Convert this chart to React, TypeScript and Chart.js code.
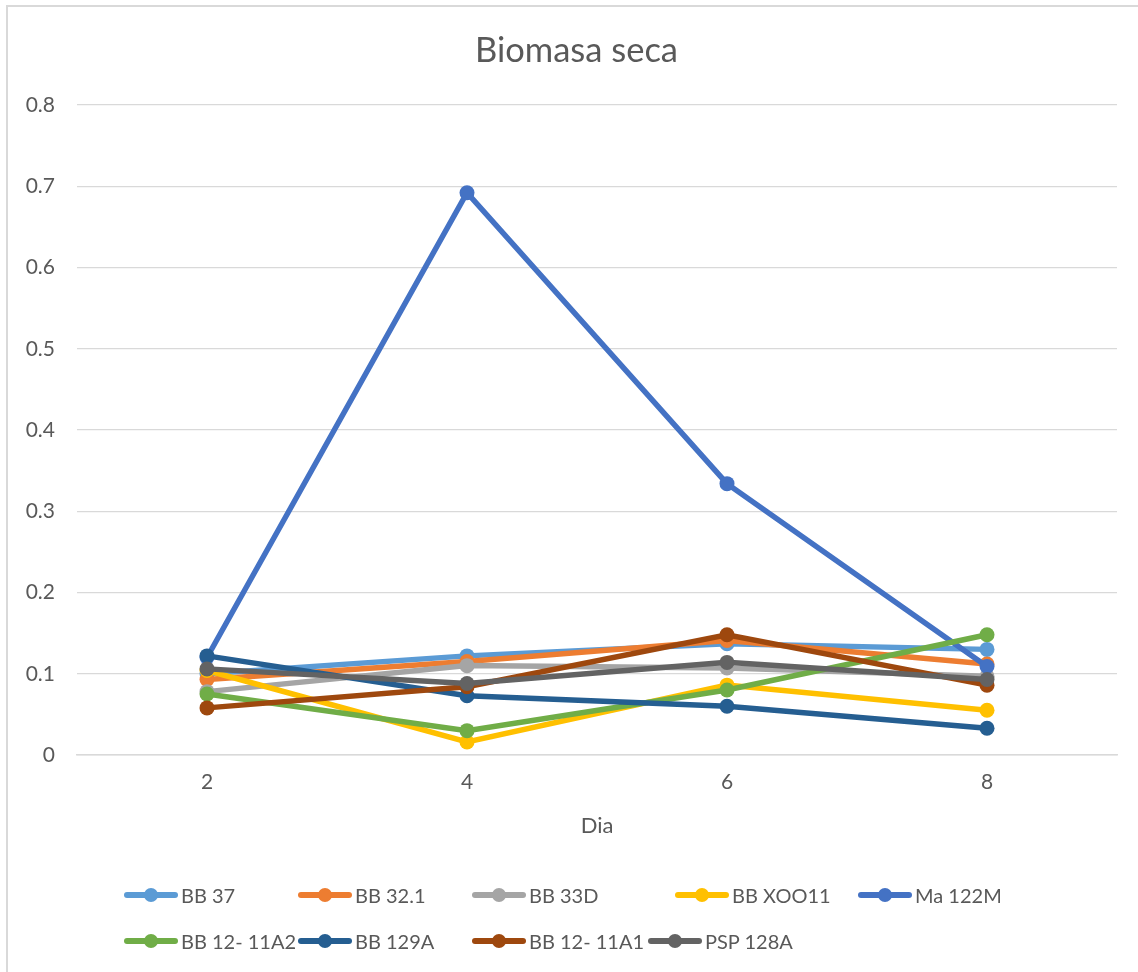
import React, { useEffect, useRef } from "react";
import { Chart, registerables } from "chart.js";

Chart.register(...registerables);

// Sampling days (x axis categories)
const days = ["2", "4", "6", "8"];

// Dry biomass per strain, one value per day
const bb37 = [0.1, 0.122, 0.137, 0.13];
const bb321 = [0.093, 0.115, 0.141, 0.112];
const bb33d = [0.078, 0.11, 0.107, 0.097];
const bbXoo11 = [0.104, 0.016, 0.086, 0.055];
const ma122m = [0.12, 0.692, 0.334, 0.109];
const bb1211a2 = [0.075, 0.03, 0.08, 0.148];
const bb129a = [0.122, 0.073, 0.06, 0.033];
const bb1211a1 = [0.058, 0.084, 0.148, 0.086];
const psp128a = [0.106, 0.088, 0.114, 0.093];

const seriesNames = [
  "BB 37",
  "BB 32.1",
  "BB 33D",
  "BB XOO11",
  "Ma 122M",
  "BB 12- 11A2",
  "BB 129A",
  "BB 12- 11A1",
  "PSP 128A",
];
const seriesValues = [bb37, bb321, bb33d, bbXoo11, ma122m, bb1211a2, bb129a, bb1211a1, psp128a];
const seriesColors = [
  "#5B9BD5",
  "#ED7D31",
  "#A5A5A5",
  "#FFC000",
  "#4472C4",
  "#70AD47",
  "#255E91",
  "#9E480E",
  "#636363",
];

const yTicks = [0, 0.1, 0.2, 0.3, 0.4, 0.5, 0.6, 0.7, 0.8];

const FONT = "Lato, 'Open Sans', sans-serif";
const TEXT = "#595959";
const GRID = "#d9d9d9";

// Legend placement: start of each entry's marker line, row centre
const legendSlots = [
  { x: 124, y: 895 },
  { x: 298, y: 895 },
  { x: 472, y: 895 },
  { x: 675, y: 895 },
  { x: 858, y: 895 },
  { x: 124, y: 941 },
  { x: 298, y: 941 },
  { x: 472, y: 941 },
  { x: 648, y: 941 },
];

export default function App() {
  const canvasRef = useRef<HTMLCanvasElement | null>(null);

  useEffect(() => {
    if (!canvasRef.current) return;
    const n = seriesNames.length;
    const chart = new Chart(canvasRef.current, {
      type: "line",
      data: {
        labels: days,
        datasets: seriesNames.map((name, i) => ({
          label: name,
          data: seriesValues[i],
          borderColor: seriesColors[i],
          backgroundColor: seriesColors[i],
          pointBackgroundColor: seriesColors[i],
          pointBorderColor: seriesColors[i],
          borderWidth: 5.5,
          pointRadius: 7.5,
          pointBorderWidth: 0,
          tension: 0,
          fill: false,
          // later series are painted over earlier ones
          order: n - 1 - i,
        })),
      },
      options: {
        animation: false,
        responsive: true,
        maintainAspectRatio: false,
        layout: { padding: { left: 0, right: 21, top: 105, bottom: 127 } },
        plugins: {
          legend: { display: false },
          tooltip: { enabled: false },
          title: { display: false },
        },
        scales: {
          x: {
            type: "category",
            offset: true,
            grid: { display: false, drawTicks: false },
            border: { display: true, color: GRID, width: 1.5 },
            ticks: {
              color: TEXT,
              font: { family: FONT, size: 21 },
              padding: 15,
            },
            title: {
              display: true,
              text: "Dia",
              color: TEXT,
              font: { family: FONT, size: 22 },
              padding: { top: 6, bottom: 6 },
            },
            afterFit: (scale: any) => {
              scale.height = 90;
            },
          },
          y: {
            min: 0,
            max: 0.8,
            afterBuildTicks: (scale: any) => {
              scale.ticks = yTicks.map((v) => ({ value: v }));
            },
            grid: { color: GRID, lineWidth: 1.3, drawTicks: false },
            border: { display: false },
            ticks: {
              color: TEXT,
              font: { family: FONT, size: 21 },
              padding: 22,
              callback: (v: any) => (Number(v) === 0 ? "0" : Number(v).toFixed(1)),
            },
            afterFit: (scale: any) => {
              scale.width = 77;
            },
          },
        },
      },
    });
    return () => chart.destroy();
  }, []);

  return (
    <div
      style={{
        position: "absolute",
        left: 0,
        top: 0,
        width: 1138,
        height: 972,
        background: "#ffffff",
        overflow: "hidden",
        fontFamily: FONT,
      }}
    >
      <div
        style={{
          position: "absolute",
          left: 6,
          top: 5,
          width: 1140,
          height: 980,
          borderLeft: `2px solid ${GRID}`,
          borderTop: `2px solid ${GRID}`,
        }}
      />
      <canvas
        ref={canvasRef}
        style={{ position: "absolute", left: 0, top: 0, width: 1138, height: 972 }}
      />
      <div
        style={{
          position: "absolute",
          left: 0,
          top: 28,
          width: 1153,
          textAlign: "center",
          fontSize: 34.5,
          lineHeight: 1.2,
          color: TEXT,
          whiteSpace: "nowrap",
        }}
      >
        Biomasa seca
      </div>
      {seriesNames.map((name, i) => {
        const slot = legendSlots[i];
        return (
          <div
            key={name}
            style={{
              position: "absolute",
              left: slot.x,
              top: slot.y - 14,
              height: 28,
              display: "flex",
              alignItems: "center",
              whiteSpace: "nowrap",
            }}
          >
            <span style={{ position: "relative", width: 54, height: 28, display: "inline-block" }}>
              <span
                style={{
                  position: "absolute",
                  left: 0,
                  top: 11.25,
                  width: 54,
                  height: 5.5,
                  borderRadius: 3,
                  background: seriesColors[i],
                }}
              />
              <span
                style={{
                  position: "absolute",
                  left: 20,
                  top: 7,
                  width: 14,
                  height: 14,
                  borderRadius: "50%",
                  background: seriesColors[i],
                }}
              />
            </span>
            <span style={{ marginLeft: 3, fontSize: 20, color: TEXT, lineHeight: "28px" }}>{name}</span>
          </div>
        );
      })}
    </div>
  );
}
